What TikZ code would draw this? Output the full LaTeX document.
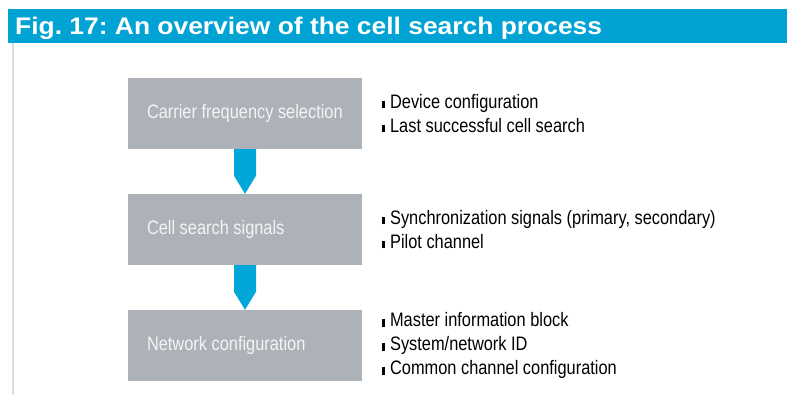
\documentclass[tikz,border=0pt]{standalone}
\usepackage{fontspec}
\setmainfont{Liberation Sans}[FakeStretch=0.84]
\newfontfamily\titlefont{Liberation Sans}[FakeStretch=1.1]
\usetikzlibrary{calc}
\frenchspacing
\definecolor{hdrblue}{HTML}{00A3D4}
\definecolor{arrblue}{HTML}{00A7D8}
\definecolor{boxgray}{HTML}{ACB2B8}
\definecolor{boxtext}{HTML}{F3F4F5}
\definecolor{sidegray}{HTML}{D9DEE3}
\newcommand{\itm}{\rule{2.4pt}{7.5pt}\hspace{5.5pt}}
\newcommand{\boxline}[1]{\makebox[196pt][l]{#1}}
\tikzset{
  stepbox/.style={rectangle, fill=boxgray, minimum width=234pt, minimum height=71pt,
    inner xsep=19pt, inner ysep=0pt, text=boxtext,
    font=\fontsize{19.5}{24}\selectfont},
  infolist/.style={anchor=west, inner sep=0pt, align=left, text=black,
    font=\fontsize{19.5}{24}\selectfont},
  flowarrow/.style={fill=arrblue}
}
\begin{document}
\begin{tikzpicture}[x=1pt,y=-1pt]
\useasboundingbox (0,0) rectangle (787,395);
\fill[white] (0,0) rectangle (787,395);
% header
\fill[hdrblue] (8,9) rectangle (787,43);
\node[anchor=base west, inner sep=0pt, text=white, font=\titlefont\bfseries\fontsize{24}{28}\selectfont\frenchspacing] (title) at (15,35) {Fig. 17: An overview of the cell search process};
% side line
\fill[sidegray] (12,43) rectangle (14,395);
% boxes
\node[stepbox] (b1) at (245,113.5) {\boxline{Carrier frequency selection}};
\node[stepbox] (b2) at (245,229.5) {\boxline{Cell search signals}};
\node[stepbox] (b3) at (245,345.5) {\boxline{Network configuration}};
% arrows
\foreach \a/\b in {b1/b2,b2/b3}{
  \fill[flowarrow] ($(\a.south)+(-11,0)$) -- ($(\a.south)+(11,0)$) -- ($(\a.south)+(11,26.5)$)
    -- (\b.north) -- ($(\a.south)+(-11,26.5)$) -- cycle;
}
% lists
\node[infolist] (l1) at (382,113.5) {\itm Device configuration\\ \itm Last successful cell search};
\node[infolist] (l2) at (382,229.5) {\itm Synchronization signals (primary, secondary)\\ \itm Pilot channel};
\node[infolist] (l3) at (382,345.5) {\itm Master information block\\ \itm System/network ID\\ \itm Common channel configuration};
\end{tikzpicture}
\end{document}
